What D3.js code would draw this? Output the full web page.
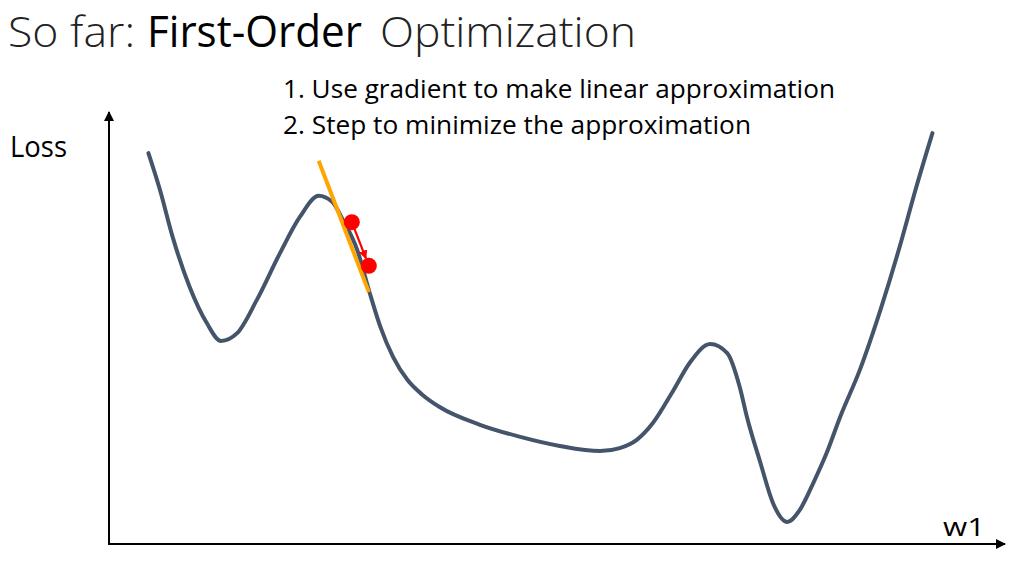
<!DOCTYPE html>
<html><head><meta charset="utf-8">
<script src="https://cdn.jsdelivr.net/npm/d3@7"></script>
<style>
html,body{margin:0;padding:0;background:#fff;}
svg{display:block;}
text{font-family:"Open Sans",sans-serif;fill:#000;}
</style></head>
<body>
<svg id="chart" width="1026" height="564"></svg>
<script>
// ---- data ----
const w1Values   = [0.44,0.57,0.71,0.90,1.09,1.25,1.43,1.65,1.91,2.13,2.34,2.49,2.61,2.77,2.91,3.03,3.17,3.33,3.50,3.69,4.14,4.59,5.03,5.48,5.70,5.89,6.07,6.30,6.48,6.71,6.90,7.04,7.12,7.27,7.41,7.57,7.71,7.86,8.01,8.16,8.38,8.61,8.83,9.00,9.19];
const lossValues = [9.05,8.19,7.11,5.95,5.12,4.70,4.88,5.65,6.74,7.57,8.06,7.92,7.50,6.81,5.81,5.02,4.33,3.80,3.45,3.17,2.76,2.48,2.27,2.15,2.22,2.41,2.80,3.56,4.19,4.63,4.42,3.63,2.94,1.88,0.95,0.51,0.79,1.41,2.11,2.94,4.03,5.42,6.92,8.19,9.51];
const tangentW    = [2.34, 2.90];
const tangentLoss = [8.87, 5.83];
const stepW       = [2.71, 2.90];
const stepLoss    = [7.45, 6.44];
const titleParts  = ["So far:", "First-Order", "Optimization"];
const bulletLines = ["1. Use gradient to make linear approximation", "2. Step to minimize the approximation"];
const yLabel = "Loss";
const xLabel = "w1";

const svg = d3.select("#chart");
const x = d3.scaleLinear().domain([0,10]).range([109,1005]);
const y = d3.scaleLinear().domain([0,10]).range([544,112]);

// arrow markers
const defs = svg.append("defs");
defs.append("marker").attr("id","axArrow").attr("viewBox","0 0 10 10")
  .attr("refX",9).attr("refY",5).attr("markerWidth",5).attr("markerHeight",5)
  .attr("markerUnits","strokeWidth").attr("orient","auto")
  .append("path").attr("d","M0,0L10,5L0,10z").attr("fill","#000");
defs.append("marker").attr("id","redArrow").attr("viewBox","0 0 10 10")
  .attr("refX",9).attr("refY",5).attr("markerWidth",4).attr("markerHeight",4)
  .attr("markerUnits","strokeWidth").attr("orient","auto")
  .append("path").attr("d","M0,0L10,5L0,10z").attr("fill","#ff0000");

// axes
svg.append("line").attr("x1",x(0)).attr("y1",545).attr("x2",x(0)).attr("y2",y(10))
  .attr("stroke","#000").attr("stroke-width",2).attr("marker-end","url(#axArrow)");
svg.append("line").attr("x1",x(0)-1).attr("y1",y(0)).attr("x2",x(10)).attr("y2",y(0))
  .attr("stroke","#000").attr("stroke-width",2).attr("marker-end","url(#axArrow)");

// loss curve
const pts = w1Values.map((w,i)=>[w,lossValues[i]]);
svg.append("path").datum(pts)
  .attr("d", d3.line().x(d=>x(d[0])).y(d=>y(d[1])).curve(d3.curveMonotoneX))
  .attr("fill","none").attr("stroke","#44546A").attr("stroke-width",4).attr("stroke-linecap","round");

// tangent line
svg.append("line")
  .attr("x1",x(tangentW[0])).attr("y1",y(tangentLoss[0]))
  .attr("x2",x(tangentW[1])).attr("y2",y(tangentLoss[1]))
  .attr("stroke","#FFA500").attr("stroke-width",4);

// step arrow
const r = 8;
const sx0 = x(stepW[0]), sy0 = y(stepLoss[0]), sx1 = x(stepW[1]), sy1 = y(stepLoss[1]);
const len = Math.hypot(sx1-sx0, sy1-sy0);
const ux = (sx1-sx0)/len, uy = (sy1-sy0)/len;
svg.append("line")
  .attr("x1",sx0).attr("y1",sy0)
  .attr("x2",sx1-ux*r).attr("y2",sy1-uy*r)
  .attr("stroke","#ff0000").attr("stroke-width",2.2).attr("marker-end","url(#redArrow)");
svg.selectAll("circle.step").data(stepW.map((w,i)=>[w,stepLoss[i]])).join("circle")
  .attr("class","step").attr("cx",d=>x(d[0])).attr("cy",d=>y(d[1])).attr("r",r)
  .attr("fill","#ff0000");

// title (three separate runs)
const titleX = [8, 147, 380], titleW = [127, 215, 256], titleWeight = [300, 400, 300];
titleParts.forEach((s,i)=>{
  svg.append("text").attr("x",titleX[i]).attr("y",47).attr("font-size",43)
    .attr("font-weight",titleWeight[i]).style("fill", i===1 ? "#000" : "#222")
    .attr("textLength",titleW[i]).attr("lengthAdjust","spacingAndGlyphs").text(s);
});

// bullets
const bulletWidths = [552, 468];
bulletLines.forEach((s,i)=>{
  svg.append("text").attr("x",283).attr("y",98+i*36).attr("font-size",25)
    .attr("textLength",bulletWidths[i]).attr("lengthAdjust","spacingAndGlyphs").text(s);
});

// axis labels
svg.append("text").attr("x",10).attr("y",157).attr("font-size",30)
  .attr("textLength",57).attr("lengthAdjust","spacingAndGlyphs").text(yLabel);
svg.append("text").attr("x",943).attr("y",536).attr("font-size",25)
  .attr("textLength",42).attr("lengthAdjust","spacingAndGlyphs").text(xLabel);
</script>
</body></html>
